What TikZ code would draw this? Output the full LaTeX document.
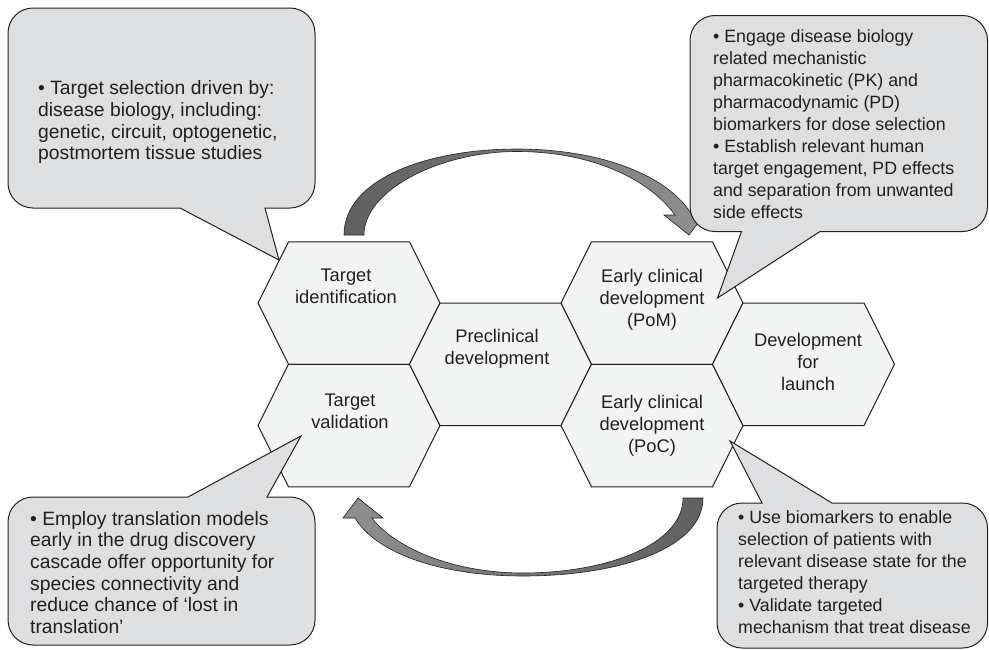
\documentclass[tikz,border=0pt]{standalone}
\usepackage{fontspec}
\setmainfont{Liberation Sans}
\definecolor{linegray}{HTML}{231F20}
\definecolor{textgray}{HTML}{231F20}
\definecolor{hexfill}{HTML}{F2F3F3}
\definecolor{calloutfill}{HTML}{DEDFE0}
\definecolor{arrowdark}{HTML}{5F6062}
\definecolor{arrowlight}{HTML}{8E8F91}
\tikzset{
  hexline/.style={draw=linegray, fill=hexfill, line width=1pt, line join=miter},
  hexcell/.pic={\path[hexline] (-91,0) -- (-60.5,-61.25) -- (60.5,-61.25)
      -- (91,0) -- (60.5,61.25) -- (-60.5,61.25) -- cycle;},
}
\begin{document}
\begin{tikzpicture}[x=1pt, y=-1pt,
  every node/.style={inner sep=0pt},
  calloutbox/.style={draw=linegray, fill=calloutfill, line width=1pt, line join=miter},
  hexlabel/.style={anchor=north, align=center, text=textgray,
    font=\fontsize{18.3}{22}\selectfont},
  notelabel/.style={anchor=north west, align=left, text=textgray,
    font=\fontsize{17.8}{22}\selectfont},
  notelarge/.style={notelabel, font=\fontsize{19.3}{21.6}\selectfont},
  bigarrow/.style={draw=linegray, line width=0.6pt, line join=miter}
]
\useasboundingbox (0,0) rectangle (989,649);

% honeycomb of stages
\coordinate (cti)  at (349,303);
\coordinate (ctv)  at (349,425.5);
\coordinate (cpc)  at (500.5,364.25);
\coordinate (cpom) at (652,303);
\coordinate (cpoc) at (652,425.5);
\coordinate (cdl)  at (803.5,364.25);
\pic (hti)  at (cti)  {hexcell};
\pic (htv)  at (ctv)  {hexcell};
\pic (hpc)  at (cpc)  {hexcell};
\pic (hpom) at (cpom) {hexcell};
\pic (hpoc) at (cpoc) {hexcell};
\pic (hdl)  at (cdl)  {hexcell};

\node[hexlabel] (ti)  at (346,268.4) {Target\\identification};
\node[hexlabel] (tv)  at (350,393.4) {Target\\validation};
\node[hexlabel] (pc)  at (497,329.1) {Preclinical\\development};
\node[hexlabel] (pom) at (652,269.4) {Early clinical\\development\\(PoM)};
\node[hexlabel] (poc) at (652,395.1) {Early clinical\\development\\(PoC)};
\node[hexlabel] (dl)  at (808,332.8) {Development\\for\\launch};

% forward cycle arrow over the top
\shadedraw[bigarrow, left color=arrowdark, right color=arrowlight]
  (344,235) .. controls (344,180) and (425,149) .. (517,149)
  .. controls (600,149) and (668,175) .. (692,215)
  -- (704,215) -- (689,235) -- (664,215) -- (675,215)
  .. controls (648,178) and (590,151.5) .. (517,151.5)
  .. controls (440,151.5) and (364,190) .. (364,235) -- cycle;

% feedback arrow underneath
\shadedraw[bigarrow, left color=arrowlight, right color=arrowdark]
  (683,498) -- (703,498) .. controls (703,548) and (620,576) .. (523,576)
  .. controls (440,576) and (376,553) .. (355,518)
  -- (343,518) -- (358,498) -- (383,518) -- (372,518)
  .. controls (393,546) and (450,573) .. (523,573)
  .. controls (606,573) and (683,545) .. (683,498) -- cycle;

% callout balloons
\path[calloutbox] (33,8) -- (290,8) arc[start angle=270, end angle=360, radius=25]
  -- (315,183) arc[start angle=0, end angle=90, radius=25]
  -- (265,208) -- (279,260) -- (180,208)
  -- (33,208) arc[start angle=90, end angle=180, radius=25]
  -- (8,33) arc[start angle=180, end angle=270, radius=25] -- cycle;

\path[calloutbox] (715,15.5) -- (962.5,15.5) arc[start angle=270, end angle=360, radius=25]
  -- (987.5,206.5) arc[start angle=0, end angle=90, radius=25]
  -- (820,231.5) -- (717.5,298) -- (741.5,231.5)
  -- (715,231.5) arc[start angle=90, end angle=180, radius=25]
  -- (690,40.5) arc[start angle=180, end angle=270, radius=25] -- cycle;

\path[calloutbox] (33,497) -- (188,497) -- (301,436) -- (267,497)
  -- (290,497) arc[start angle=270, end angle=360, radius=25]
  -- (315,620) arc[start angle=0, end angle=90, radius=25]
  -- (33,645) arc[start angle=90, end angle=180, radius=25]
  -- (8,522) arc[start angle=180, end angle=270, radius=25] -- cycle;

\path[calloutbox] (742,503) -- (762,503) -- (730,441) -- (832,503)
  -- (962.5,503) arc[start angle=270, end angle=360, radius=25]
  -- (987.5,623) arc[start angle=0, end angle=90, radius=25]
  -- (742,648) arc[start angle=90, end angle=180, radius=25]
  -- (717,528) arc[start angle=180, end angle=270, radius=25] -- cycle;

\node[notelarge] (noteti) at (38,80.8)
  {• Target selection driven by:\\disease biology, including:\\genetic, circuit, optogenetic,\\postmortem tissue studies};
\node[notelabel] (notepom) at (713,29.6)
  {• Engage disease biology\\related mechanistic\\pharmacokinetic (PK) and\\pharmacodynamic (PD)\\biomarkers for dose selection\\• Establish relevant human\\target engagement, PD effects\\and separation from unwanted\\side effects};
\node[notelarge] (notetv) at (30,511.1)
  {• Employ translation models\\early in the drug discovery\\cascade offer opportunity for\\species connectivity and\\reduce chance of ‘lost in\\translation’};
\node[notelabel] (notepoc) at (738,510.3)
  {• Use biomarkers to enable\\selection of patients with\\relevant disease state for the\\targeted therapy\\• Validate targeted\\mechanism that treat disease};
\end{tikzpicture}
\end{document}
